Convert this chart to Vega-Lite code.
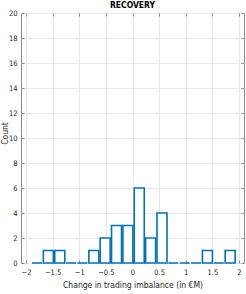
{
  "$schema": "https://vega.github.io/schema/vega-lite/v6.json",
  "width": 223,
  "height": 250,
  "autosize": {"type": "none"},
  "padding": {"left": 21, "top": 13, "right": 2, "bottom": 31},
  "background": "white",
  "config": {
    "font": "DejaVu Sans Condensed, Liberation Sans, sans-serif",
    "view": {"stroke": "#8c8c8c", "strokeWidth": 1},
    "axis": {
      "labelFontSize": 7.5,
      "titleFontSize": 8.5,
      "titleFontWeight": "normal",
      "labelColor": "#262626",
      "titleColor": "#262626",
      "domain": false,
      "tickColor": "#8c8c8c",
      "tickSize": -3,
      "gridColor": "#e8e8e8",
      "gridWidth": 1
    }
  },
  "title": {"text": "RECOVERY", "fontSize": 8.5, "fontWeight": "bold", "offset": 3, "dy": 3, "color": "#000000"},
  "data": {
    "values": [
      {"center": -1.793, "count": 0},
      {"center": -1.580, "count": 1},
      {"center": -1.366, "count": 1},
      {"center": -1.153, "count": 0},
      {"center": -0.940, "count": 0},
      {"center": -0.726, "count": 1},
      {"center": -0.513, "count": 2},
      {"center": -0.300, "count": 3},
      {"center": -0.086, "count": 3},
      {"center": 0.127, "count": 6},
      {"center": 0.340, "count": 2},
      {"center": 0.554, "count": 4},
      {"center": 0.767, "count": 0},
      {"center": 0.981, "count": 0},
      {"center": 1.194, "count": 0},
      {"center": 1.407, "count": 1},
      {"center": 1.621, "count": 0},
      {"center": 1.834, "count": 1}
    ]
  },
  "layer": [
    {
      "mark": {"type": "bar", "width": 10, "fill": "white", "stroke": "#0072BD", "strokeWidth": 1.6},
      "encoding": {
        "x": {
          "field": "center", "type": "quantitative",
          "scale": {"domain": [-2, 2], "nice": false, "zero": false},
          "axis": {"values": [-2, -1.5, -1, -0.5, 0, 0.5, 1, 1.5, 2], "format": "~g", "title": "Change in trading imbalance (in €M)", "labelPadding": 8, "titlePadding": 5, "labelFlush": false}
        },
        "y": {
          "field": "count", "type": "quantitative",
          "scale": {"domain": [0, 20], "nice": false},
          "axis": {"values": [0, 2, 4, 6, 8, 10, 12, 14, 16, 18, 20], "title": "Count", "labelPadding": 7, "titleX": -13.5, "titleY": 120, "titleBaseline": "alphabetic"}
        }
      }
    },
    {
      "mark": {"type": "point", "opacity": 0},
      "encoding": {
        "x": {
          "field": "center", "type": "quantitative",
          "scale": {"domain": [-2, 2], "nice": false, "zero": false},
          "axis": {"orient": "top", "values": [-2, -1.5, -1, -0.5, 0, 0.5, 1, 1.5, 2], "labels": false, "grid": false, "title": null}
        },
        "y": {
          "field": "count", "type": "quantitative",
          "scale": {"domain": [0, 20], "nice": false},
          "axis": {"orient": "right", "values": [0, 2, 4, 6, 8, 10, 12, 14, 16, 18, 20], "labels": false, "grid": false, "title": null}
        }
      }
    }
  ],
  "resolve": {"axis": {"x": "independent", "y": "independent"}}
}
